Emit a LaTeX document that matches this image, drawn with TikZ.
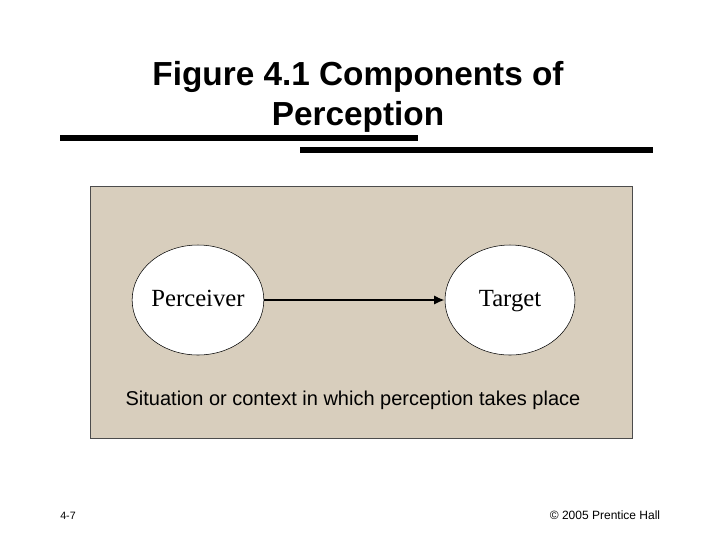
\documentclass[tikz,border=0pt]{standalone}
\usepackage{fontspec}
\setmainfont{Liberation Sans}
\newfontfamily\serif{Liberation Serif}
\usetikzlibrary{arrows.meta,shapes.geometric}
\definecolor{tan}{HTML}{D8CEBD}
\begin{document}
\begin{tikzpicture}[x=0.75pt,y=-0.75pt,
  bar/.style={line width=4pt},
  oval/.style={ellipse,draw,fill=white,minimum width=130*0.75pt,minimum height=110*0.75pt,inner sep=0pt,text height=12pt,text depth=3pt,font=\serif\fontsize{18.5}{22}\selectfont}]
\useasboundingbox (0,0) rectangle (720,540);
\node[align=center,font=\bfseries\fontsize{25}{30}\selectfont] (title) at (358,97) {Figure 4.1 Components of\\Perception};
\coordinate (b1a) at (60,138); \coordinate (b1b) at (418,138);
\coordinate (b2a) at (300,150); \coordinate (b2b) at (653,150);
\draw[bar] (b1a) -- (b1b);
\draw[bar] (b2a) -- (b2b);
\node[draw=black!70,fill=tan,minimum width=542*0.75pt,minimum height=252*0.75pt,inner sep=0pt] (box) at (361,312) {};
\node[oval] (p) at (198,300) {Perceiver};
\node[oval] (t) at (510,300) {Target};
\draw[-{Latex[length=8pt,width=7pt]},line width=1.6pt] (p) -- (t);
\node[font=\fontsize{15}{18}\selectfont] (sit) at (353,400) {Situation or context in which perception takes place};
\node[font=\fontsize{8}{10}\selectfont] (num) at (68,516) {4-7};
\node[font=\fontsize{9}{11}\selectfont] (copy) at (605,515) {© 2005 Prentice Hall};
\end{tikzpicture}
\end{document}
